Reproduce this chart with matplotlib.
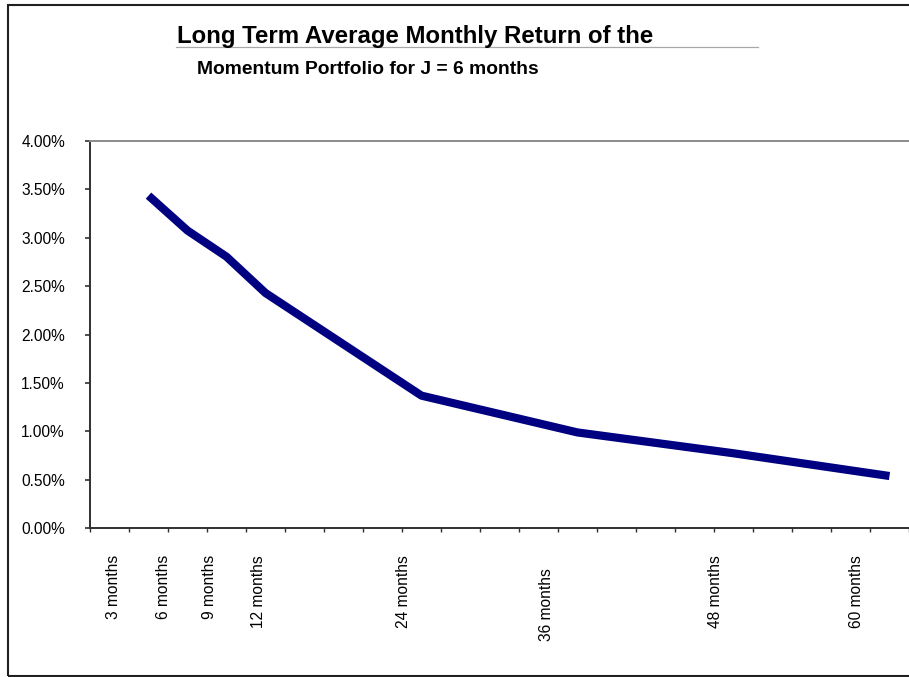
import matplotlib
matplotlib.use("Agg")
from matplotlib import pyplot as plt
from matplotlib.patches import Rectangle
from matplotlib.lines import Line2D
from matplotlib.ticker import FuncFormatter
import numpy as np

# holding period K (months) and long term average monthly return
K_MONTHS = [3, 6, 9, 12, 24, 36, 48, 60]
AVG_RETURN = [0.03436, 0.03075, 0.02805, 0.0243, 0.0137, 0.0099, 0.00775, 0.0054]

TICK_LABELS = ["3 months", "6 months", "9 months", "12 months",
               "24 months", "36 months", "48 months", "60 months"]
# hand placed label positions (month units / axes fraction)
LABEL_X = [0.29, 4.14, 7.73, 11.45, 22.6, 33.63, 46.58, 57.48]
LABEL_Y = [-0.069, -0.069, -0.069, -0.069, -0.069, -0.103, -0.069, -0.069]

TITLE_1 = "Long Term Average Monthly Return of the"
TITLE_2 = "Momentum Portfolio for J = 6 months"

W, H = 909, 677
FONT = "Liberation Sans"

plt.rcParams["font.family"] = [FONT, "DejaVu Sans"]

fig = plt.figure(figsize=(W / 100, H / 100), dpi=100)


def fx(px):
    return px / W


def fy(py):
    return 1 - py / H


ax = fig.add_axes([fx(90), fy(528.3), fx(909) - fx(90), fy(141) - fy(528.3)])

ax.plot(K_MONTHS, AVG_RETURN, color="#000080", linewidth=5.9,
        solid_capstyle="butt", solid_joinstyle="round")

ax.set_xlim(-1.5, 61.5)
ax.set_ylim(0, 0.04)
ax.set_xticks(np.arange(-1.5, 62, 3))
ax.set_xticklabels([])
ax.set_yticks(np.arange(0, 0.0401, 0.005))
ax.yaxis.set_major_formatter(FuncFormatter(lambda v, _: f"{v * 100:.2f}%"))

ax.tick_params(axis="y", direction="out", length=3.6, width=1.2,
               color="#303030", pad=14.4, labelsize=11.2, labelcolor="black")
ax.tick_params(axis="x", direction="out", length=3.0, width=1.0,
               color="#303030")

for side in ("left", "bottom"):
    ax.spines[side].set_color("#303030")
    ax.spines[side].set_linewidth(1.4)
ax.spines["top"].set_color("#8c8c8c")
ax.spines["top"].set_linewidth(1.4)
ax.spines["right"].set_visible(False)

for lab, x, y in zip(TICK_LABELS, LABEL_X, LABEL_Y):
    ax.text(x, y, lab, transform=ax.get_xaxis_transform(), rotation=90,
            ha="center", va="top", fontsize=11.2, color="black")

# title, two lines as in the source chart
fig.text(fx(176.7), fy(43.3), TITLE_1, fontsize=17.3, fontweight="bold",
         ha="left", va="baseline")
fig.text(fx(196.7), fy(74.3), TITLE_2, fontsize=13.9, fontweight="bold",
         ha="left", va="baseline")
fig.add_artist(Line2D([fx(176), fx(758)], [fy(46.7), fy(46.7)],
                      color="#a8a8a8", linewidth=0.9))

# chart border
fig.add_artist(Rectangle((fx(8.3), fy(675.5)), 1.2, fy(4.7) - fy(675.5),
                         fill=False, edgecolor="#202020", linewidth=1.5))

fig.savefig("out.png", dpi=100)
